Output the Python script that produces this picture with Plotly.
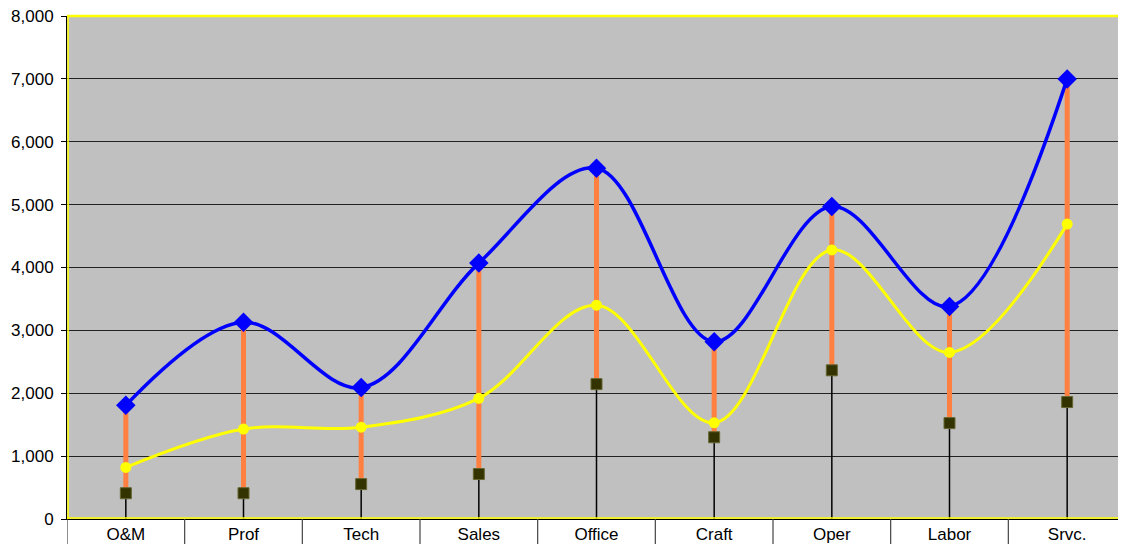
import plotly.graph_objects as go

categories = ["O&M", "Prof", "Tech", "Sales", "Office", "Craft", "Oper", "Labor", "Srvc."]
high_vals = [1810, 3130, 2090, 4070, 5580, 2820, 4970, 3380, 7000]
mid_vals = [820, 1430, 1460, 1920, 3400, 1530, 4280, 2650, 4690]
low_vals = [410, 410, 555, 715, 2145, 1300, 2365, 1525, 1860]
y_ticks = [0, 1000, 2000, 3000, 4000, 5000, 6000, 7000, 8000]

n = len(categories)
idx = list(range(n))

fig = go.Figure()

# drop lines from axis to low value
dx, dy = [], []
for i, v in zip(idx, low_vals):
    dx += [i, i, None]
    dy += [0, v, None]
fig.add_trace(go.Scatter(x=dx, y=dy, mode="lines", line=dict(color="black", width=1.5),
                         hoverinfo="skip", showlegend=False))

# high-low bars
hx, hy = [], []
for i, lo, hi in zip(idx, low_vals, high_vals):
    hx += [i, i, None]
    hy += [lo, hi, None]
fig.add_trace(go.Scatter(x=hx, y=hy, mode="lines", line=dict(color="#FF8040", width=5),
                         hoverinfo="skip", showlegend=False))

fig.add_trace(go.Scatter(x=idx, y=high_vals, mode="lines+markers",
                         line=dict(color="#0000FF", width=3.5, shape="spline", smoothing=1),
                         marker=dict(symbol="diamond", size=15, color="#0000FF"),
                         showlegend=False))
fig.add_trace(go.Scatter(x=idx, y=mid_vals, mode="lines+markers",
                         line=dict(color="#FFFF00", width=3, shape="spline", smoothing=1),
                         marker=dict(symbol="circle", size=11, color="#FFFF00"),
                         showlegend=False))
fig.add_trace(go.Scatter(x=idx, y=low_vals, mode="markers",
                         marker=dict(symbol="square", size=11, color="#333300",
                                     line=dict(color="#666633", width=1)),
                         showlegend=False))

PLOT_H = 503
shapes = []
# category separators below the axis
for b in range(n + 1):
    shapes.append(dict(type="line", xref="x", yref="paper", x0=b - 0.5, x1=b - 0.5,
                       y0=0, y1=-25 / PLOT_H, line=dict(color="#444444", width=1.2)))
# yellow plot-area border
shapes.append(dict(type="line", xref="paper", yref="paper", x0=0, x1=1, y0=1, y1=1,
                   line=dict(color="#FFFF00", width=2.5)))
shapes.append(dict(type="line", xref="paper", yref="paper", x0=0.001, x1=0.001, y0=0, y1=1,
                   line=dict(color="#FFFF00", width=1.5)))
shapes.append(dict(type="line", xref="paper", yref="paper", x0=0, x1=1, y0=0.002, y1=0.002,
                   line=dict(color="#FFFF00", width=1.5)))

# page body has an 8px margin; offset the figure so the plot lands where the reference has it
fig.update_layout(
    width=1118, height=536,
    margin=dict(l=59, r=0, t=8, b=25, autoexpand=False),
    paper_bgcolor="white", plot_bgcolor="#C0C0C0",
    font=dict(family="Liberation Sans, Arial, sans-serif", size=17, color="black"),
    shapes=shapes,
    xaxis=dict(range=[-0.5, n - 0.5], tickmode="array", tickvals=idx, ticktext=categories,
               showgrid=False, zeroline=False, showline=True, linecolor="black", linewidth=1,
               ticks="", automargin=False, fixedrange=True, ticklabeloverflow="allow"),
    yaxis=dict(range=[0, 8000], tickmode="array", tickvals=y_ticks,
               ticktext=[f"{v:,}" for v in y_ticks],
               showgrid=True, gridcolor="#222222", gridwidth=1, zeroline=False,
               showline=True, linecolor="black", linewidth=1, automargin=False,
               ticks="outside", ticklen=5, tickcolor="black", fixedrange=True,
               ticklabelstandoff=4, ticklabeloverflow="allow"),
)

fig.write_html("out.html")
